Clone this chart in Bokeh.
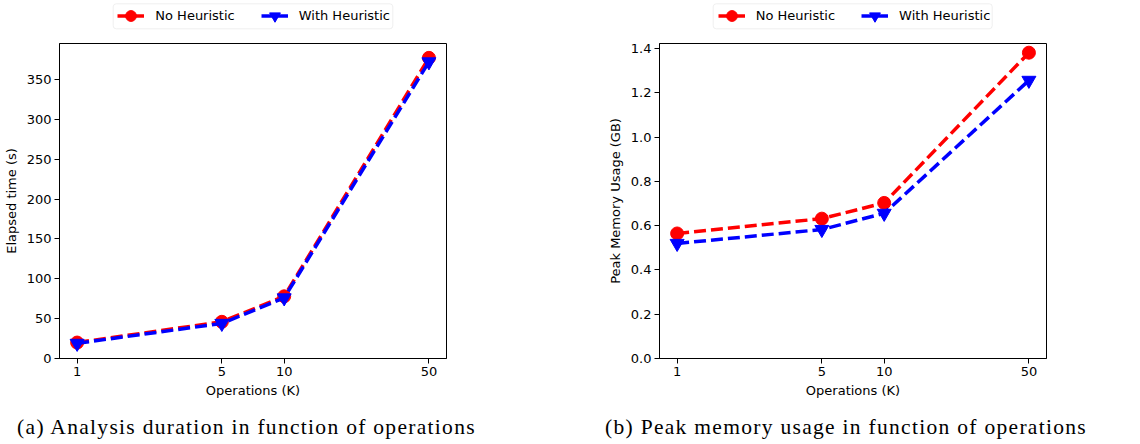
from bokeh.plotting import figure
from bokeh.layouts import row, column
from bokeh.models import Range1d, FixedTicker, Legend, LegendItem, BoxAnnotation, Div
from bokeh.embed import file_html
from bokeh.resources import INLINE

# ---- data ----
operations = [1, 5, 10, 50]
op_tick_labels = ["1", "5", "10", "50"]

time_no_heur = [20, 46, 78, 377]
time_with_heur = [19, 44, 76, 372]
time_ticks = [0, 50, 100, 150, 200, 250, 300, 350]

mem_no_heur = [0.565, 0.632, 0.703, 1.382]
mem_with_heur = [0.52, 0.583, 0.656, 1.257]
mem_ticks = [0.0, 0.2, 0.4, 0.6, 0.8, 1.0, 1.2, 1.4]
mem_tick_labels = ["0.0", "0.2", "0.4", "0.6", "0.8", "1.0", "1.2", "1.4"]

series_names = ["No Heuristic", "With Heuristic"]
captions = ["(a) Analysis duration in function of operations",
            "(b) Peak memory usage in function of operations"]

FONT = "DejaVu Sans"
RED = "#ff0000"
BLUE = "#0000ff"
DASH = "12 5"
LW = 3.5
NAN = float("nan")


def make_plot(y_a, y_b, y_max, yticks, ylabels, ylabel, left, right):
    p = figure(output_backend="svg", toolbar_location=None,
               x_axis_type="log",
               frame_width=387, frame_height=315,
               min_border_left=left, min_border_right=right,
               min_border_top=1, min_border_bottom=44,
               x_range=Range1d(0.822, 60.8), y_range=Range1d(0, y_max))
    p.grid.visible = False
    p.outline_line_color = "black"
    p.outline_line_width = 1
    p.background_fill_color = "white"
    p.border_fill_color = "white"

    for ax in (p.xaxis[0], p.yaxis[0]):
        ax.axis_line_color = "black"
        ax.major_tick_line_color = "black"
        ax.major_tick_out = 5
        ax.major_tick_in = 0
        ax.minor_tick_line_color = None
        ax.major_label_text_font = FONT
        ax.major_label_text_font_size = "13px"
        ax.major_label_text_color = "black"
        ax.axis_label_text_font = FONT
        ax.axis_label_text_font_size = "13px"
        ax.axis_label_text_font_style = "normal"
        ax.axis_label_text_color = "black"

    p.xaxis.ticker = FixedTicker(ticks=operations)
    p.xaxis.major_label_overrides = {o: l for o, l in zip(operations, op_tick_labels)}
    p.xaxis.axis_label = "Operations (K)"
    p.xaxis.major_label_standoff = 3
    p.xaxis.axis_label_standoff = 4

    p.yaxis.ticker = FixedTicker(ticks=yticks)
    p.yaxis.major_label_overrides = {t: l for t, l in zip(yticks, ylabels)}
    p.yaxis.axis_label = ylabel
    p.yaxis.major_label_standoff = 3
    p.yaxis.axis_label_standoff = 5

    p.line(operations, y_a, line_color=RED, line_width=LW, line_dash=DASH)
    p.scatter(operations, y_a, marker="circle", size=13, fill_color=RED, line_color=RED)
    p.line(operations, y_b, line_color=BLUE, line_width=LW, line_dash=DASH)
    p.scatter(operations, y_b, marker="inverted_triangle", size=14, fill_color=BLUE, line_color=BLUE)
    return p


def make_legend(left_border, box_left, box_right, glyph_left):
    # the legend strip's frame is aligned with the plot frame below it;
    # its x range is expressed in the strip's own pixel coordinates
    lf = figure(output_backend="svg", toolbar_location=None,
                width=570, height=42, min_border=0,
                x_axis_location=None, y_axis_location=None,
                x_range=Range1d(left_border, left_border + 387), y_range=Range1d(0, 42))
    lf.grid.visible = False
    lf.outline_line_color = None
    lf.background_fill_color = "white"
    lf.border_fill_color = "white"
    lf.add_layout(BoxAnnotation(left=box_left, right=box_right, bottom=13.7, top=38.7,
                                fill_color="white", fill_alpha=1.0,
                                line_color="#cccccc", line_width=1, border_radius=3))
    la = lf.line(x=[NAN], y=[NAN], line_color=RED, line_width=LW)
    sa = lf.scatter(x=[NAN], y=[NAN], marker="circle", size=13, fill_color=RED, line_color=RED)
    lb = lf.line(x=[NAN], y=[NAN], line_color=BLUE, line_width=LW)
    sb = lf.scatter(x=[NAN], y=[NAN], marker="inverted_triangle", size=14, fill_color=BLUE, line_color=BLUE)
    legend = Legend(items=[LegendItem(label=series_names[0], renderers=[la, sa]),
                           LegendItem(label=series_names[1], renderers=[lb, sb])],
                    orientation="horizontal",
                    location=(glyph_left - left_border, 12.7),
                    label_text_font=FONT, label_text_font_size="13px",
                    label_text_color="black",
                    glyph_width=27, glyph_height=27, label_height=27,
                    label_standoff=11, spacing=26, padding=0, margin=0,
                    border_line_color=None, background_fill_alpha=0.0)
    lf.add_layout(legend, "center")
    return lf


def make_caption(text, center):
    html = ('<div style="width:%dpx;text-align:center;font-family:\'Liberation Serif\';'
            'font-size:21.5px;letter-spacing:1.3px;line-height:24px;padding-top:13px;'
            'color:black;white-space:nowrap;">%s</div>'
            % (int(2 * center), text))
    return Div(text=html, width=570, height=42, margin=0)


p1 = make_plot(time_no_heur, time_with_heur, 395, time_ticks,
               [str(t) for t in time_ticks], "Elapsed time (s)", 59, 124)
p2 = make_plot(mem_no_heur, mem_with_heur, 1.4235, mem_ticks, mem_tick_labels,
               "Peak Memory Usage (GB)", 89, 94)

l1 = make_legend(59, 112.7, 392.3, 117.3)
l2 = make_legend(89, 142.7, 421.7, 147.7)

c1 = make_caption(captions[0], 246.5)
c2 = make_caption(captions[1], 276)

layout = row(column(l1, p1, c1, spacing=0), column(l2, p2, c2, spacing=0), spacing=0)
open("out.html", "w").write(file_html(layout, INLINE))
